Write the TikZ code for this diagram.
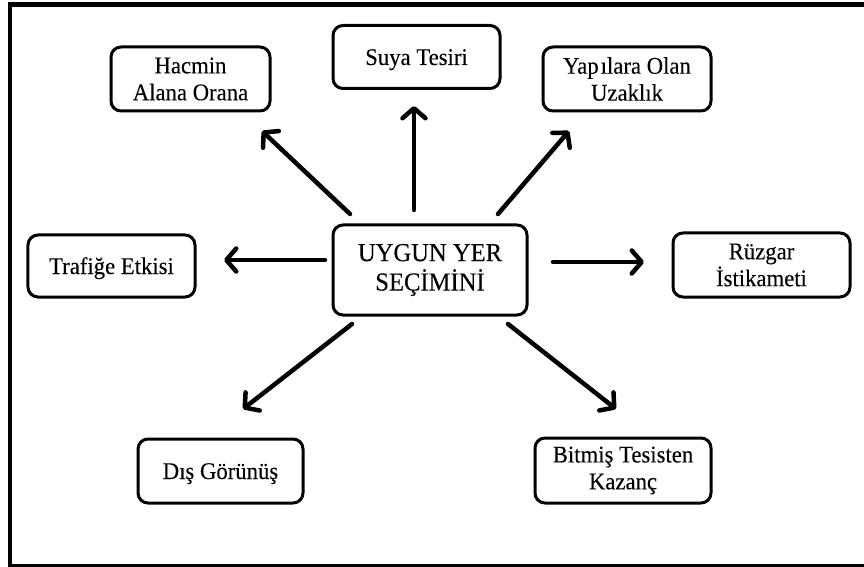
\documentclass[tikz,border=0pt]{standalone}
\usepackage{fontspec}
\setmainfont[FakeStretch=0.95,FakeBold=0.1]{Liberation Serif}
\usetikzlibrary{arrows.meta}
\begin{document}
\begin{tikzpicture}[x=1bp,y=-1bp,
  box/.style={draw=black,line width=3bp,rounded corners=10bp,
    inner sep=0pt,font=\fontsize{24}{27}\selectfont},
  twoline/.style={box,align=center},
  oneline/.style={box,text height=16bp,text depth=0bp},
  mainbox/.style={box,align=center,font=\fontsize{26}{29.5}\selectfont},
  arr/.style={line width=4.5bp,line cap=round,
    -{Straight Barb[length=10bp,width=23bp,line width=4.5bp,round]}},
  frame/.style={line cap=butt}]
  \useasboundingbox (0,0) rectangle (864,567);
  % outer frame, open on the right
  \draw[frame,line width=5bp] (8,5) -- (864,5);
  \draw[frame,line width=4bp] (10,3) -- (10,567);
  \draw[frame,line width=2.5bp] (8,565.5) -- (864,565.5);

  % nodes
  \node[mainbox,minimum width=194bp,minimum height=90bp] (merkez) at (430,270) {UYGUN YER\\SEÇİMİNİ};
  \node[twoline,minimum width=159bp,minimum height=64bp] (hacmin) at (190.5,79) {Hacmin\\Alana Orana};
  \node[oneline,minimum width=167bp,minimum height=63bp] (suya) at (416.5,57) {Suya Tesiri};
  \node[twoline,minimum width=168bp,minimum height=64bp] (yapi) at (627,79) {Yap\kern2bp ılara Olan\\Uzaklık};
  \node[oneline,minimum width=167bp,minimum height=62bp] (trafik) at (111.5,266) {Trafiğe Etkisi};
  \node[twoline,minimum width=177bp,minimum height=64bp] (ruzgar) at (761.5,265) {Rüzgar\\İstikameti};
  \node[oneline,minimum width=165bp,minimum height=64bp] (dis) at (220.5,471) {Dış Görünüş};
  \node[twoline,minimum width=176bp,minimum height=65bp] (kazanc) at (623,470.5) {Bitmiş Tesisten\\Kazanç};

  % arrow end points
  \coordinate (uS) at (414,210);  \coordinate (uE) at (414,106);
  \coordinate (ulS) at (350,214); \coordinate (ulE) at (262,131);
  \coordinate (urS) at (498,214); \coordinate (urE) at (569,131);
  \coordinate (lS) at (325,260);  \coordinate (lE) at (224,260);
  \coordinate (rS) at (553,262);  \coordinate (rE) at (644,262);
  \coordinate (dlS) at (352,324); \coordinate (dlE) at (243,409);
  \coordinate (drS) at (508,324); \coordinate (drE) at (616,409);

  \draw[arr] (uS) -- (uE);
  \draw[arr] (ulS) -- (ulE);
  \draw[arr] (urS) -- (urE);
  \draw[arr] (lS) -- (lE);
  \draw[arr] (rS) -- (rE);
  \draw[arr] (dlS) -- (dlE);
  \draw[arr] (drS) -- (drE);
\end{tikzpicture}
\end{document}
